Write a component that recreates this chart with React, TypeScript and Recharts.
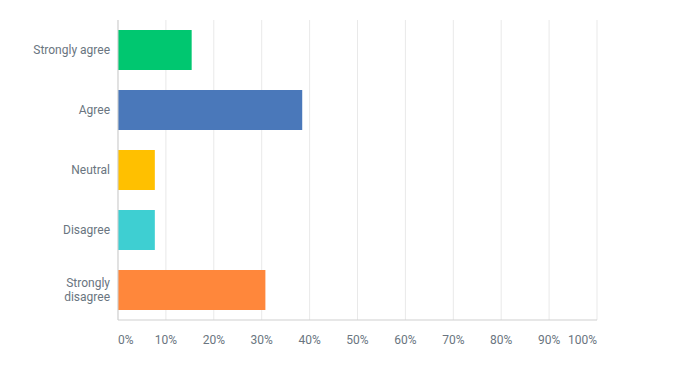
import { BarChart, Bar, XAxis, YAxis, CartesianGrid, Cell } from "recharts";

const categories = ["Strongly agree", "Agree", "Neutral", "Disagree", "Strongly disagree"];
const percents = [15.38, 38.46, 7.69, 7.69, 30.77];
const colors = ["#00c770", "#4a78ba", "#ffc000", "#3ecfd2", "#ff873b"];
const xTicks = [0, 10, 20, 30, 40, 50, 60, 70, 80, 90, 100];

const data = categories.map((name, i) => ({ name, value: percents[i] }));

const FONT = "Roboto, sans-serif";
const TEXT = "#6a7580";
const MAX_CHARS = 15;

// simple word wrap for long category names
const wrap = (label: string) => {
    if (label.length <= MAX_CHARS) return [label];
    const words = label.split(" ");
    const lines: string[] = [];
    let cur = "";
    words.forEach((w) => {
        const next = cur ? cur + " " + w : w;
        if (next.length > MAX_CHARS - 5 && cur) {
            lines.push(cur);
            cur = w;
        } else {
            cur = next;
        }
    });
    if (cur) lines.push(cur);
    return lines;
};

const CategoryTick = (props: any) => {
    const { x, y, payload } = props;
    const lines = wrap(payload.value);
    const lh = 14;
    const start = y - ((lines.length - 1) * lh) / 2;
    return (
        <text textAnchor="end" fontSize={12} fontFamily={FONT} fill={TEXT}>
            {lines.map((l, i) => (
                <tspan key={i} x={x} y={start + i * lh} dominantBaseline="central">
                    {l}
                </tspan>
            ))}
        </text>
    );
};

const PercentTick = (props: any) => {
    const { x, y, payload, index } = props;
    const anchor = index === 0 ? "start" : index === xTicks.length - 1 ? "end" : "middle";
    return (
        <text x={x} y={y + 12} textAnchor={anchor} dominantBaseline="central" fontSize={12} fontFamily={FONT} fill={TEXT}>
            {payload.value}%
        </text>
    );
};

const App = () => {
    return (
        <div style={{ position: "absolute", left: 0, top: 0, width: 693, height: 376, background: "#fff" }}>
            <BarChart
                width={693}
                height={376}
                data={data}
                layout="vertical"
                margin={{ top: 20, right: 96, bottom: 26, left: 0 }}
                barCategoryGap={10}
            >
                <CartesianGrid horizontal={false} stroke="#e9e9e9" />
                <XAxis
                    type="number"
                    domain={[0, 100]}
                    ticks={xTicks}
                    interval={0}
                    tickLine={false}
                    axisLine={{ stroke: "#cfcfcf" }}
                    tick={<PercentTick />}
                    height={30}
                />
                <YAxis
                    type="category"
                    dataKey="name"
                    width={118}
                    tickLine={false}
                    axisLine={{ stroke: "#cfcfcf" }}
                    tick={<CategoryTick />}
                    tickMargin={2}
                />
                <Bar dataKey="value" isAnimationActive={false}>
                    {data.map((d, i) => (
                        <Cell key={d.name} fill={colors[i]} />
                    ))}
                </Bar>
            </BarChart>
        </div>
    );
};

export default App;
